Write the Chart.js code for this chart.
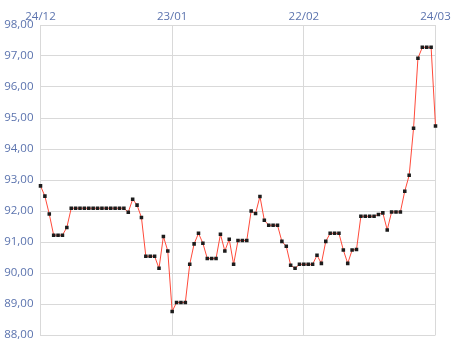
<!DOCTYPE html>
<html>
<head>
<meta charset="utf-8">
<script src="https://cdn.jsdelivr.net/npm/chart.js@4/dist/chart.umd.min.js"></script>
<style>
  html, body { margin: 0; padding: 0; background: #fff; }
  #chart { display: block; }
</style>
</head>
<body>
<canvas id="chart" width="460" height="360"></canvas>
<script>
// daily dates, 24/12 .. 24/03
const dates = [
  '24/12', '25/12', '26/12', '27/12', '28/12', '29/12', '30/12', '31/12',
  '01/01', '02/01', '03/01', '04/01', '05/01', '06/01', '07/01', '08/01', '09/01', '10/01',
  '11/01', '12/01', '13/01', '14/01', '15/01', '16/01', '17/01', '18/01', '19/01', '20/01',
  '21/01', '22/01', '23/01', '24/01', '25/01', '26/01', '27/01', '28/01', '29/01', '30/01', '31/01',
  '01/02', '02/02', '03/02', '04/02', '05/02', '06/02', '07/02', '08/02', '09/02', '10/02',
  '11/02', '12/02', '13/02', '14/02', '15/02', '16/02', '17/02', '18/02', '19/02', '20/02',
  '21/02', '22/02', '23/02', '24/02', '25/02', '26/02', '27/02', '28/02',
  '01/03', '02/03', '03/03', '04/03', '05/03', '06/03', '07/03', '08/03', '09/03', '10/03',
  '11/03', '12/03', '13/03', '14/03', '15/03', '16/03', '17/03', '18/03', '19/03', '20/03',
  '21/03', '22/03', '23/03', '24/03'
];

const prices = [
  92.81, 92.48, 91.90, 91.22, 91.22, 91.22, 91.47, 92.09, 92.09, 92.09,
  92.09, 92.09, 92.09, 92.09, 92.09, 92.09, 92.09, 92.09, 92.09, 92.09,
  91.96, 92.38, 92.19, 91.79, 90.54, 90.54, 90.54, 90.15, 91.18, 90.71,
  88.76, 89.05, 89.05, 89.05, 90.28, 90.94, 91.28, 90.96, 90.47, 90.47,
  90.47, 91.25, 90.71, 91.09, 90.28, 91.05, 91.05, 91.05, 92.00, 91.92,
  92.47, 91.70, 91.54, 91.54, 91.54, 91.02, 90.86, 90.25, 90.15, 90.28,
  90.28, 90.28, 90.28, 90.57, 90.31, 91.02, 91.28, 91.28, 91.28, 90.74,
  90.31, 90.74, 90.76, 91.83, 91.83, 91.83, 91.83, 91.89, 91.94, 91.39,
  91.97, 91.97, 91.97, 92.64, 93.15, 94.67, 96.93, 97.28, 97.28, 97.28,
  94.74
];

// labelled dates on the top axis
const tickDates = ['24/12', '23/01', '22/02', '24/03'];

const labelColor = '#5b73ae';
const gridColor = '#d9d9d9';
const labelFont = { family: "'Open Sans', sans-serif", size: 11.5 };

new Chart(document.getElementById('chart'), {
  type: 'line',
  data: {
    labels: dates,
    datasets: [{
      data: prices,
      borderColor: '#ff4a3a',
      borderWidth: 1,
      tension: 0,
      pointStyle: 'rect',
      pointRadius: 2.5,
      pointBorderWidth: 0,
      pointBackgroundColor: '#1c1c1c'
    }]
  },
  options: {
    responsive: false,
    animation: false,
    layout: { padding: { left: 0, right: 24.5, top: 0, bottom: 25 } },
    plugins: { legend: { display: false }, tooltip: { enabled: false } },
    scales: {
      x: {
        position: 'top',
        offset: false,
        grid: { color: gridColor, drawTicks: false },
        border: { color: gridColor },
        ticks: {
          autoSkip: false,
          maxRotation: 0,
          padding: 1,
          color: labelColor,
          font: labelFont,
          callback: (v, i) => tickDates.includes(dates[i]) ? dates[i] : null
        },
        afterFit: (scale) => { scale.height = 25; }
      },
      y: {
        min: 88,
        max: 98,
        grid: { color: gridColor, drawTicks: false },
        border: { color: gridColor },
        ticks: {
          stepSize: 1,
          padding: 7,
          color: labelColor,
          font: labelFont,
          callback: (v) => v.toFixed(2).replace('.', ',')
        },
        afterFit: (scale) => { scale.width = 40.5; }
      }
    }
  }
});
</script>
</body>
</html>
